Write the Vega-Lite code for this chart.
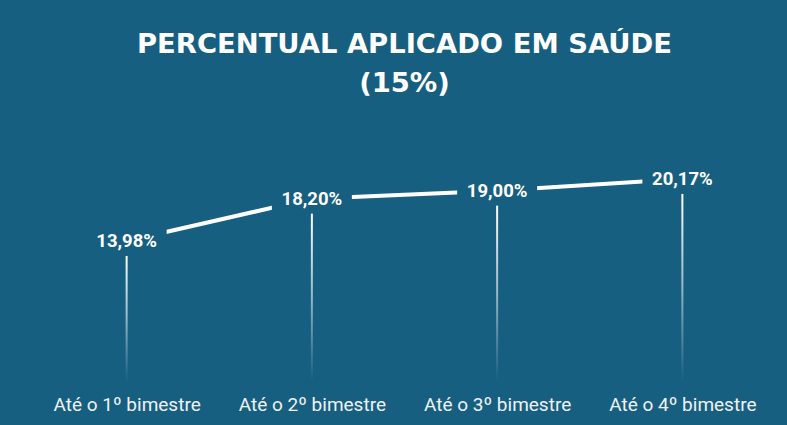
{
  "$schema": "https://vega.github.io/schema/vega-lite/v6.json",
  "autosize": "none",
  "width": 741,
  "height": 260.5,
  "padding": {"left": 34, "top": 120.5, "right": 12, "bottom": 44},
  "background": "#175f80",
  "title": {
    "text": ["PERCENTUAL APLICADO EM SAÚDE", "(15%)"],
    "font": "DejaVu Sans",
    "fontSize": 27.4,
    "fontWeight": "bold",
    "color": "#ffffff",
    "lineHeight": 39,
    "anchor": "middle",
    "offset": 23
  },
  "config": {
    "view": {"stroke": null},
    "font": "Roboto"
  },
  "data": {
    "values": [
      {"periodo": "Até o 1º bimestre", "valor": 13.98, "rotulo": "13,98%"},
      {"periodo": "Até o 2º bimestre", "valor": 18.20, "rotulo": "18,20%"},
      {"periodo": "Até o 3º bimestre", "valor": 19.00, "rotulo": "19,00%"},
      {"periodo": "Até o 4º bimestre", "valor": 20.17, "rotulo": "20,17%"}
    ]
  },
  "encoding": {
    "x": {
      "field": "periodo",
      "type": "ordinal",
      "sort": null,
      "scale": {"type": "point", "padding": 0.5},
      "axis": {
        "title": null,
        "labelAngle": 0,
        "domain": false,
        "ticks": false,
        "labelFont": "Roboto",
        "labelFontSize": 19,
        "labelColor": "#eef2f5",
        "labelPadding": 14
      }
    }
  },
  "layer": [
    {
      "mark": {
        "type": "bar",
        "width": 2,
        "yOffset": 15,
        "y2Offset": 0,
        "color": {
          "gradient": "linear",
          "x1": 0, "y1": 0, "x2": 0, "y2": 1,
          "stops": [
            {"offset": 0, "color": "rgba(255,255,255,1)"},
            {"offset": 0.5, "color": "rgba(255,255,255,0.55)"},
            {"offset": 1, "color": "rgba(255,255,255,0)"}
          ]
        }
      },
      "encoding": {
        "y": {
          "field": "valor",
          "type": "quantitative",
          "scale": {"domain": [0, 26], "nice": false, "zero": true},
          "axis": null
        },
        "y2": {"datum": 0}
      }
    },
    {
      "mark": {"type": "line", "color": "#ffffff", "strokeWidth": 4},
      "encoding": {
        "y": {"field": "valor", "type": "quantitative"}
      }
    },
    {
      "mark": {
        "type": "point",
        "shape": "M-1,-0.3H1V0.3H-1Z",
        "size": 6400,
        "filled": true,
        "opacity": 1,
        "color": "#175f80",
        "strokeWidth": 0
      },
      "encoding": {
        "y": {"field": "valor", "type": "quantitative"}
      }
    },
    {
      "mark": {
        "type": "text",
        "font": "Roboto",
        "fontSize": 18.5,
        "fontWeight": "bold",
        "color": "#ffffff",
        "baseline": "middle",
        "align": "center"
      },
      "encoding": {
        "y": {"field": "valor", "type": "quantitative"},
        "text": {"field": "rotulo"}
      }
    }
  ]
}
